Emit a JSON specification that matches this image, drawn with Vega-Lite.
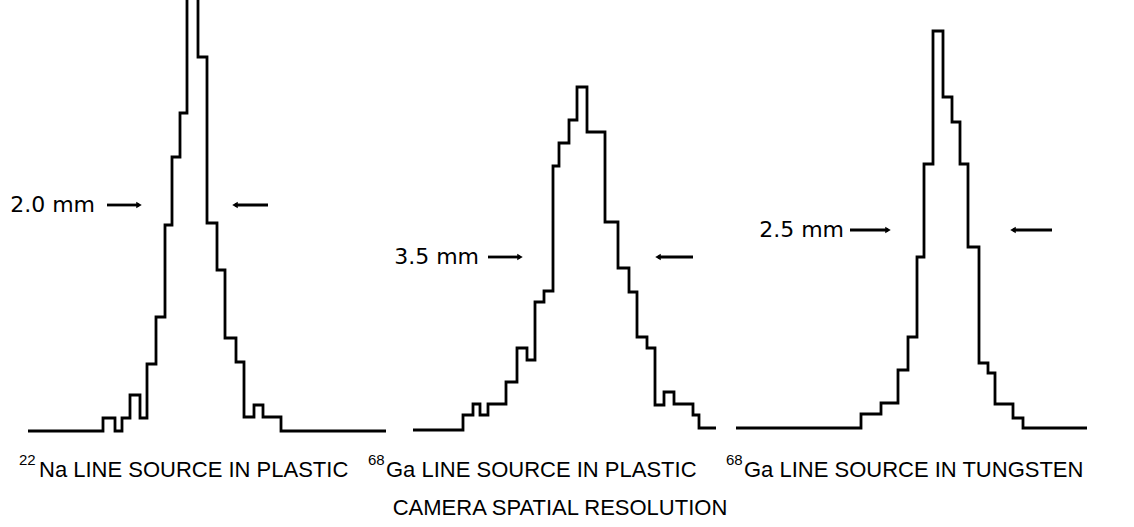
{
  "$schema": "https://vega.github.io/schema/vega-lite/v6.json",
  "width": 1134,
  "height": 527,
  "autosize": {"type": "fit", "contains": "padding"},
  "padding": 0,
  "background": "white",
  "config": {"view": {"stroke": null}},
  "datasets": {
    "hist": [
      {"panel": "Na22 plastic", "x": 2.8, "v": 0},
      {"panel": "Na22 plastic", "x": 10.3, "v": 13},
      {"panel": "Na22 plastic", "x": 11.5, "v": 0},
      {"panel": "Na22 plastic", "x": 12.2, "v": 13},
      {"panel": "Na22 plastic", "x": 13.0, "v": 36},
      {"panel": "Na22 plastic", "x": 14.0, "v": 13},
      {"panel": "Na22 plastic", "x": 14.7, "v": 67},
      {"panel": "Na22 plastic", "x": 15.6, "v": 114},
      {"panel": "Na22 plastic", "x": 16.5, "v": 206},
      {"panel": "Na22 plastic", "x": 17.2, "v": 274},
      {"panel": "Na22 plastic", "x": 18.0, "v": 318},
      {"panel": "Na22 plastic", "x": 18.7, "v": 470},
      {"panel": "Na22 plastic", "x": 19.8, "v": 374},
      {"panel": "Na22 plastic", "x": 20.7, "v": 208},
      {"panel": "Na22 plastic", "x": 21.7, "v": 161},
      {"panel": "Na22 plastic", "x": 22.5, "v": 93},
      {"panel": "Na22 plastic", "x": 23.6, "v": 69},
      {"panel": "Na22 plastic", "x": 24.4, "v": 14},
      {"panel": "Na22 plastic", "x": 25.4, "v": 26},
      {"panel": "Na22 plastic", "x": 26.3, "v": 14},
      {"panel": "Na22 plastic", "x": 28.1, "v": 0},
      {"panel": "Na22 plastic", "x": 38.6, "v": 0},
      {"panel": "Ga68 plastic", "x": 41.3, "v": 1},
      {"panel": "Ga68 plastic", "x": 46.3, "v": 16},
      {"panel": "Ga68 plastic", "x": 47.3, "v": 27},
      {"panel": "Ga68 plastic", "x": 48.0, "v": 16},
      {"panel": "Ga68 plastic", "x": 48.8, "v": 27},
      {"panel": "Ga68 plastic", "x": 50.6, "v": 49},
      {"panel": "Ga68 plastic", "x": 51.7, "v": 83},
      {"panel": "Ga68 plastic", "x": 52.7, "v": 71},
      {"panel": "Ga68 plastic", "x": 53.5, "v": 129},
      {"panel": "Ga68 plastic", "x": 54.4, "v": 140},
      {"panel": "Ga68 plastic", "x": 55.3, "v": 265},
      {"panel": "Ga68 plastic", "x": 55.9, "v": 288},
      {"panel": "Ga68 plastic", "x": 56.9, "v": 311},
      {"panel": "Ga68 plastic", "x": 57.7, "v": 344},
      {"panel": "Ga68 plastic", "x": 58.7, "v": 299},
      {"panel": "Ga68 plastic", "x": 60.5, "v": 209},
      {"panel": "Ga68 plastic", "x": 61.8, "v": 163},
      {"panel": "Ga68 plastic", "x": 62.9, "v": 139},
      {"panel": "Ga68 plastic", "x": 63.7, "v": 94},
      {"panel": "Ga68 plastic", "x": 64.7, "v": 83},
      {"panel": "Ga68 plastic", "x": 65.5, "v": 26},
      {"panel": "Ga68 plastic", "x": 66.4, "v": 39},
      {"panel": "Ga68 plastic", "x": 67.4, "v": 27},
      {"panel": "Ga68 plastic", "x": 69.3, "v": 16},
      {"panel": "Ga68 plastic", "x": 69.9, "v": 3},
      {"panel": "Ga68 plastic", "x": 71.6, "v": 3},
      {"panel": "Ga68 tungsten", "x": 73.6, "v": 3},
      {"panel": "Ga68 tungsten", "x": 86.1, "v": 17},
      {"panel": "Ga68 tungsten", "x": 88.1, "v": 28},
      {"panel": "Ga68 tungsten", "x": 89.8, "v": 61},
      {"panel": "Ga68 tungsten", "x": 90.8, "v": 94},
      {"panel": "Ga68 tungsten", "x": 91.7, "v": 174},
      {"panel": "Ga68 tungsten", "x": 92.4, "v": 267},
      {"panel": "Ga68 tungsten", "x": 93.3, "v": 400},
      {"panel": "Ga68 tungsten", "x": 94.3, "v": 334},
      {"panel": "Ga68 tungsten", "x": 95.2, "v": 309},
      {"panel": "Ga68 tungsten", "x": 96.0, "v": 267},
      {"panel": "Ga68 tungsten", "x": 96.8, "v": 184},
      {"panel": "Ga68 tungsten", "x": 97.9, "v": 68},
      {"panel": "Ga68 tungsten", "x": 98.8, "v": 58},
      {"panel": "Ga68 tungsten", "x": 99.5, "v": 27},
      {"panel": "Ga68 tungsten", "x": 101.3, "v": 13},
      {"panel": "Ga68 tungsten", "x": 102.3, "v": 3},
      {"panel": "Ga68 tungsten", "x": 108.7, "v": 3}
    ],
    "arrows": [
      {"x": 10.7, "x2": 13.9, "v": 226, "dir": "right"},
      {"x": 26.8, "x2": 23.5, "v": 226, "dir": "left"},
      {"x": 48.8, "x2": 52.0, "v": 174, "dir": "right"},
      {"x": 69.3, "x2": 65.8, "v": 174, "dir": "left"},
      {"x": 85.0, "x2": 88.8, "v": 201, "dir": "right"},
      {"x": 105.2, "x2": 101.3, "v": 201, "dir": "left"}
    ],
    "fwhm": [
      {"x": 9.5, "v": 226, "label": "2.0 mm"},
      {"x": 47.9, "v": 174, "label": "3.5 mm"},
      {"x": 84.4, "v": 201, "label": "2.5 mm"}
    ],
    "sups": [
      {"x": 1.9, "v": -29, "label": "22"},
      {"x": 36.8, "v": -29, "label": "68"},
      {"x": 72.6, "v": -29, "label": "68"}
    ],
    "names": [
      {"x": 3.9, "v": -39, "label": "Na LINE SOURCE IN PLASTIC"},
      {"x": 38.6, "v": -39, "label": "Ga LINE SOURCE IN PLASTIC"},
      {"x": 74.4, "v": -39, "label": "Ga LINE SOURCE IN TUNGSTEN"}
    ],
    "title": [
      {"x": 56.0, "v": -77, "label": "CAMERA SPATIAL RESOLUTION"}
    ]
  },
  "encoding": {
    "x": {"field": "x", "type": "quantitative", "scale": {"domain": [0, 113.4], "nice": false, "zero": false}, "axis": null},
    "y": {"field": "v", "type": "quantitative", "scale": {"domain": [-96, 431], "nice": false, "zero": false}, "axis": null}
  },
  "layer": [
    {
      "data": {"name": "hist"},
      "mark": {"type": "line", "interpolate": "step-after", "color": "black", "strokeWidth": 2.8, "clip": true, "strokeJoin": "miter"},
      "encoding": {"detail": {"field": "panel"}}
    },
    {
      "data": {"name": "arrows"},
      "mark": {"type": "rule", "color": "black", "strokeWidth": 2.8},
      "encoding": {"x2": {"field": "x2"}}
    },
    {
      "data": {"name": "arrows"},
      "mark": {"type": "point", "filled": true, "color": "black", "size": 40, "opacity": 1},
      "encoding": {
        "x": {"field": "x2", "type": "quantitative"},
        "shape": {"field": "dir", "type": "nominal", "scale": {"domain": ["right", "left"], "range": ["triangle-right", "triangle-left"]}, "legend": null}
      }
    },
    {
      "data": {"name": "fwhm"},
      "mark": {"type": "text", "align": "right", "baseline": "middle", "font": "DejaVu Sans", "fontSize": 22, "color": "black"},
      "encoding": {"text": {"field": "label"}}
    },
    {
      "data": {"name": "sups"},
      "mark": {"type": "text", "align": "left", "baseline": "middle", "font": "Liberation Sans", "fontSize": 15, "color": "black"},
      "encoding": {"text": {"field": "label"}}
    },
    {
      "data": {"name": "names"},
      "mark": {"type": "text", "align": "left", "baseline": "middle", "font": "Liberation Sans", "fontSize": 22, "color": "black"},
      "encoding": {"text": {"field": "label"}}
    },
    {
      "data": {"name": "title"},
      "mark": {"type": "text", "align": "center", "baseline": "middle", "font": "Liberation Sans", "fontSize": 22, "color": "black"},
      "encoding": {"text": {"field": "label"}}
    }
  ]
}
